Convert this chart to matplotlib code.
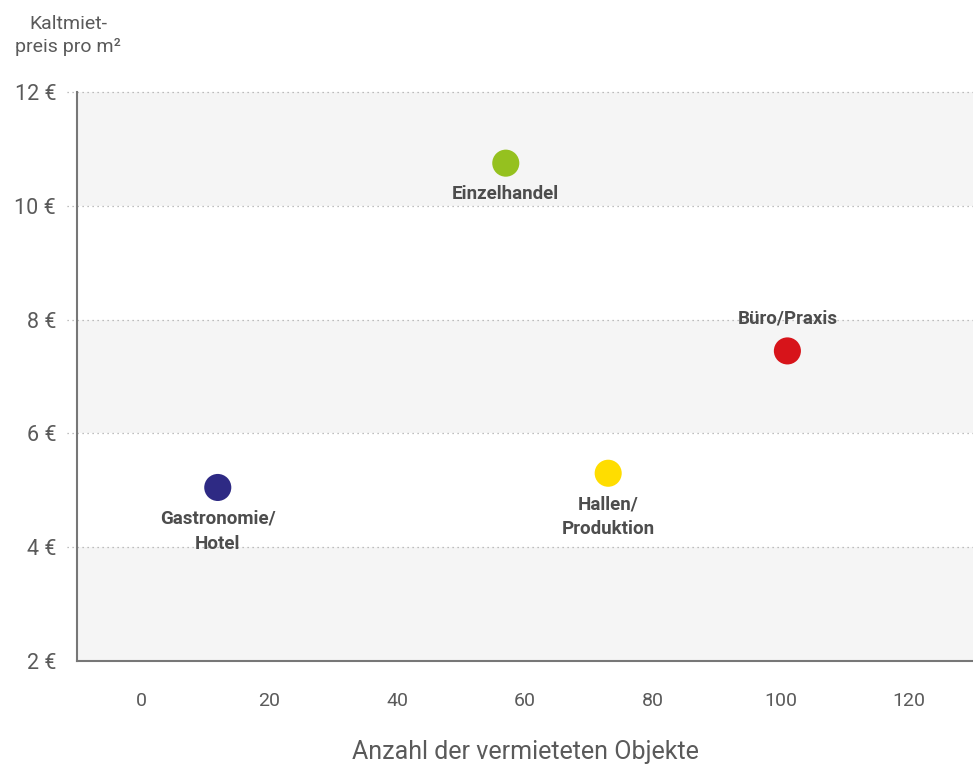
import matplotlib.pyplot as plt
import matplotlib.transforms as mtransforms

plt.rcParams['font.family'] = ['Roboto', 'DejaVu Sans']

# data
categories = ['Gastronomie/\nHotel', 'Einzelhandel', 'Büro/Praxis', 'Hallen/\nProduktion']
objekte = [12, 57, 101, 73]
preis = [5.05, 10.75, 7.45, 5.3]
colors = ['#2e2a84', '#95c11f', '#d7141a', '#ffdd00']
label_above = [False, False, True, False]
y_ticks = [2, 4, 6, 8, 10, 12]
x_ticks = [0, 20, 40, 60, 80, 100, 120]

fig = plt.figure(figsize=(9.73, 7.67), dpi=100)
ax = fig.add_axes([0.0791, 0.1382, 0.9209, 0.7418])
ax.set_xlim(-10, 130)
ax.set_ylim(2, 12)

# alternating bands
for i in range(len(y_ticks) - 1):
    if i % 2 == 0:
        ax.axhspan(y_ticks[i], y_ticks[i + 1], color='#f5f5f5', zorder=0, lw=0)

# dotted grid lines reaching a little past the left spine
trans = mtransforms.blended_transform_factory(ax.transAxes, ax.transData)
for y in y_ticks[1:]:
    ax.plot([-0.011, 1], [y, y], transform=trans, ls=(0, (1, 3)), color='#aaaaaa',
            lw=0.9, clip_on=False, zorder=1)

ax.scatter(objekte, preis, s=380, c=colors, zorder=3, linewidths=0)

for x, y, name, above in zip(objekte, preis, categories, label_above):
    if above:
        ax.annotate(name, (x, y), xytext=(0, 17), textcoords='offset points',
                    ha='center', va='bottom', fontsize=13.5, fontweight='bold',
                    color='#4d4d4d', zorder=4)
    else:
        ax.annotate(name, (x, y), xytext=(0, -16), textcoords='offset points',
                    ha='center', va='top', fontsize=13.5, fontweight='bold',
                    color='#4d4d4d', linespacing=1.5, zorder=4)

for s in ['top', 'right']:
    ax.spines[s].set_visible(False)
for s in ['left', 'bottom']:
    ax.spines[s].set_color('#777777')
    ax.spines[s].set_linewidth(1.5)

ax.set_yticks(y_ticks)
ax.set_yticklabels([f'{t} €' for t in y_ticks])
ax.set_xticks(x_ticks)
ax.tick_params(axis='both', length=0, colors='#5a5a5a')
ax.tick_params(axis='y', labelsize=15.5, pad=15)
ax.tick_params(axis='x', labelsize=14, pad=22)

ax.set_xlabel('Anzahl der vermieteten Objekte', fontsize=18, color='#5a5a5a',
              labelpad=22)
fig.text(0.07, 0.98, 'Kaltmiet-\npreis pro m²', ha='center', va='top',
         fontsize=14, color='#5a5a5a', linespacing=1.35)

fig.savefig('out.png', dpi=100)
